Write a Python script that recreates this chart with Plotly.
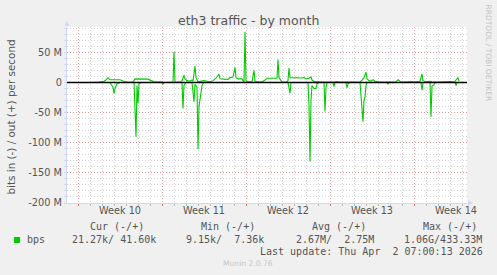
import plotly.graph_objects as go
from datetime import datetime, timedelta

# ---------------- data ----------------
T0 = datetime(2026, 3, 2)          # Monday, start of ISO week 10
RANGE_START_H = -22                # hours relative to T0
RANGE_END_H = 778

# outbound traffic (+), hours after T0, Mbit/s
out_hours = [12, 20, 24, 42, 48, 52, 56, 60, 62, 64, 84, 88, 92, 96, 104, 110, 112, 114,
             140, 144, 148, 152, 158, 164, 172, 184, 190, 192, 194, 204, 208, 212, 214,
             218, 224, 228, 230, 234, 236, 240, 246, 252, 258, 264, 270, 276, 282, 284,
             292, 300, 304, 310, 314, 316, 320, 328, 330, 332, 334, 336, 340, 348, 352,
             354, 360, 368, 374, 378, 398, 400, 402, 404, 408, 416, 420, 422, 424, 450,
             452, 456, 462, 466, 468, 472, 480, 488, 514, 516, 524, 540, 552, 556, 564,
             568, 572, 576, 578, 582, 586, 590, 594, 600, 608, 636, 640, 644, 648, 668,
             672, 684, 688, 690, 696, 704, 708, 716, 734, 738, 754, 760, 762]
out_mbps = [0, 0.8, 0, 0.5, 1, 2, 4, 8, 6, 4.5, 4.5, 3, 1.5, 0.5, 0.3, 1, 3, 6,
            5.5, 4, 2, 1, 0.5, 1, 0, 0.3, 0.5, 51, 1, 0.5, 3, 12, 6,
            3, 2, 4, 2, 27, 8, 1, 2, 3, 2, 1, 3, 7, 14, 6,
            5.5, 5, 8, 9, 25, 8, 6, 6, 3, 0.5, 84, 3, 1, 1, 20,
            2, 0.5, 1, 4, 7, 7, 38, 8, 5, 1, 0.5, 3, 24, 8, 7.5,
            8.5, 6, 7, 9, 4, 1.5, 1, 0.5, 0.5, 1.5, 0.5, 1, 1.5, 0.5, 1,
            4, 8, 17, 6, 3, 2, 4.5, 2, 1, 0.5, 1, 4.5, 2, 0.5, 1.5,
            0.5, 2, 14, 3, 1, 2, 1, 0.5, 1.5, 0.5, 2, 8, 2]

# inbound traffic (-), hours after T0, Mbit/s (plotted downwards)
in_hours = [12, 64, 66, 70, 72, 74, 78, 84, 112, 114, 116, 118, 120, 122, 126,
            168, 170, 172, 208, 210, 212, 216, 228, 232, 234, 238, 240, 242, 246,
            248, 252, 420, 424, 426, 460, 462, 464, 466, 468, 472, 476, 478, 482,
            492, 494, 496, 498, 510, 512, 514, 536, 538, 540, 544, 564, 566, 570,
            572, 574, 576, 578, 618, 620, 622, 686, 688, 690, 704, 706, 708, 712,
            714, 754, 756, 758, 762]
in_mbps = [0, 0, 3, 8, 18, 10, 2, 0, 0, 50, 90, 5, 35, 2, 0,
           0, 3, 0, 0, 43, 5, 0, 0, 32, 3, 8, 111, 40, 20,
           5, 0, 0, 18, 0, 0, 40, 131, 30, 5, 10, 10, 2, 0,
           0, 48, 8, 0, 0, 7, 0, 0, 9, 2, 0, 0, 20, 65,
           30, 24, 5, 0, 0, 3, 0, 0, 13, 0, 0, 57, 6, 4,
           0, 0, 5, 0, 0]

week_labels = ["Week 10", "Week 11", "Week 12", "Week 13", "Week 14"]
ytick_vals = [-200, -150, -100, -50, 0, 50]
ytick_text = ["-200 M", "-150 M", "-100 M", "-50 M", "0", "50 M"]

legend_headers = ["Cur (-/+)", "Min (-/+)", "Avg (-/+)", "Max (-/+)"]
legend_values = ["21.27k/\u00a041.60k", "9.15k/\u00a0\u00a07.36k",
                 "2.67M/\u00a0\u00a02.75M", "1.06G/433.33M"]
series_name = "bps"
title_text = "eth3 traffic - by month"
ylabel_text = "bits in (-) / out (+) per second"
last_update = "Last update: Thu Apr\u00a0\u00a02 07:00:13 2026"
footer_text = "Munin 2.0.76"
side_text = "RRDTOOL / TOBI OETIKER"

# ---------------- styling ----------------
W, H = 497, 275
L, R, T, B = 67, 30, 27, 72
PW, PH = W - L - R, H - T - B
GREEN = "#00CC00"
FONT = "DejaVu Sans"
MONO = "DejaVu Sans Mono"
TXT = "#555555"
AXIS = "#CFD6F8"
MGRID = "rgba(225,120,120,0.7)"
GRID = "rgba(170,170,170,0.5)"


def px(x):
    return (x - L) / PW


def py(y):
    return (H - B - y) / PH


def ts(hours):
    return [T0 + timedelta(hours=h) for h in hours]


x_range = [T0 + timedelta(hours=RANGE_START_H), T0 + timedelta(hours=RANGE_END_H)]
week_mid = [T0 + timedelta(days=7 * i + 3.5) for i in range(len(week_labels))]

fig = go.Figure()
fig.add_trace(go.Scatter(x=ts(out_hours), y=out_mbps, mode="lines",
                         line=dict(color=GREEN, width=1.1), hoverinfo="skip"))
fig.add_trace(go.Scatter(x=ts(in_hours), y=[-v for v in in_mbps], mode="lines",
                         line=dict(color=GREEN, width=1.1), hoverinfo="skip"))
fig.add_trace(go.Scatter(x=week_mid, y=[0] * len(week_mid), xaxis="x2", mode="markers",
                         marker=dict(opacity=0), hoverinfo="skip"))

fig.update_layout(
    width=W, height=H, margin=dict(l=L, r=R, t=T, b=B),
    paper_bgcolor="#F0F0F0", plot_bgcolor="#FFFFFF", showlegend=False,
    xaxis=dict(type="date", range=x_range, tickmode="linear", tick0=T0,
               dtick=7 * 86400000, showgrid=True, gridcolor=MGRID, griddash="1px,2px",
               gridwidth=1, showticklabels=False, ticks="outside", ticklen=2,
               tickcolor="rgba(230,100,100,0.9)", showline=True, linecolor=AXIS,
               zeroline=False,
               minor=dict(tick0=T0, dtick=86400000, showgrid=True, gridcolor=GRID,
                          griddash="1px,2px", ticks="outside", ticklen=2,
                          tickcolor="#BBBBBB")),
    xaxis2=dict(type="date", range=x_range, overlaying="x", anchor="y", side="bottom",
                tickmode="array", tickvals=week_mid, ticktext=week_labels,
                showgrid=False, ticks="", showline=False, zeroline=False,
                tickfont=dict(family=FONT, size=9.7, color=TXT)),
    yaxis=dict(range=[-200, 92], tickmode="array", tickvals=ytick_vals,
               ticktext=ytick_text, showgrid=True, gridcolor=MGRID,
               griddash="1px,2px", zeroline=False, showline=True, linecolor=AXIS,
               ticks="outside", ticklen=2, tickcolor=AXIS,
               tickfont=dict(family=FONT, size=9.8, color=TXT),
               minor=dict(tick0=0, dtick=10, showgrid=True, gridcolor=GRID,
                          griddash="1px,2px", ticks="outside", ticklen=2,
                          tickcolor=AXIS)),
)

shapes = [
    # black zero line
    dict(type="line", xref="paper", yref="y", x0=0, x1=1, y0=0, y1=0,
         line=dict(color="#000000", width=1.5), layer="above"),
    # axis arrows
    dict(type="path", xref="paper", yref="paper", xsizemode="pixel", ysizemode="pixel",
         xanchor=0, yanchor=1, path="M -2.5,1 L 2.5,1 L 0,6 Z",
         fillcolor=AXIS, line=dict(width=0)),
    dict(type="path", xref="paper", yref="paper", xsizemode="pixel", ysizemode="pixel",
         xanchor=1, yanchor=0, path="M 1,-2.5 L 1,2.5 L 6,0 Z",
         fillcolor=AXIS, line=dict(width=0)),
    # legend swatch
    dict(type="rect", xref="paper", yref="paper", x0=px(14), x1=px(20), y0=py(243),
         y1=py(237), fillcolor=GREEN, line=dict(width=0)),
]
fig.update_layout(shapes=shapes)

ann = []


def add_text(text, x, y, xanchor="center", size=10, family=FONT, color=TXT, angle=0):
    ann.append(dict(text=text, x=px(x), y=py(y), xref="paper", yref="paper",
                    xanchor=xanchor, yanchor="middle", showarrow=False, borderpad=0,
                    textangle=angle, font=dict(family=family, size=size, color=color)))


add_text(title_text, 248, 20.6, size=12.5)
add_text(ylabel_text, 10.5, 117, size=10.4, angle=-90)
add_text(side_text, 488.5, 53, size=7.5, color="#C4C4C4", angle=90)
header_x = [88.8, 199.5, 311.3, 422.3]
value_x = [157.3, 265.3, 375, 482.8]
for hx, htxt in zip(header_x, legend_headers):
    add_text(htxt, hx, 226.5, xanchor="left", family=MONO)
for vx, vtxt in zip(value_x, legend_values):
    add_text(vtxt, vx, 239.8, xanchor="right", family=MONO)
add_text(series_name, 26.2, 239.8, xanchor="left", family=MONO)
add_text(last_update, 483.8, 251.5, xanchor="right", family=MONO)
add_text(footer_text, 247.7, 263.6, size=7.6, color="#C8C8C8")
fig.update_layout(annotations=ann)

fig.write_html("out.html")
